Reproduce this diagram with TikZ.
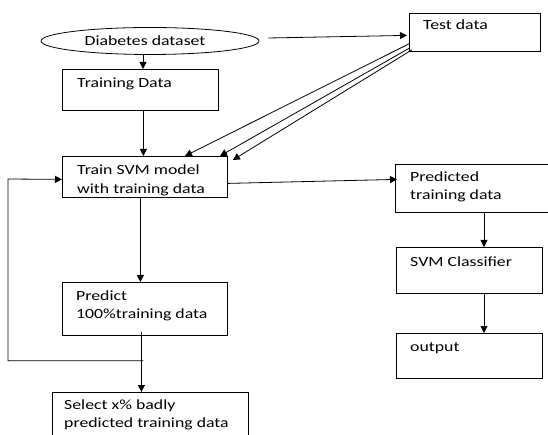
\documentclass[tikz,border=0pt]{standalone}
\usepackage{fontspec}
\setmainfont{Carlito}[FakeStretch=1.27]
\usetikzlibrary{arrows.meta,shapes.geometric,calc}
\begin{document}
\begin{tikzpicture}[x=1pt,y=-1pt,
  box/.style={draw, line width=0.8pt, inner sep=0pt, anchor=north west},
  lbl/.style={anchor=north west, inner sep=0pt, align=left, font=\fontsize{14}{18.5}\selectfont},
  arr/.style={-{Triangle[length=7pt,width=7pt]}, line width=0.8pt},
  ln/.style={line width=0.8pt}]
\useasboundingbox (0,0) rectangle (548,435);
\clip (0,0) rectangle (548,435);
% boxes
\node[draw, ellipse, line width=0.8pt, minimum width=218pt, minimum height=27pt, inner sep=0pt] (ds) at (150,41) {};
\node[lbl, anchor=center] (dsT) at (145,41) {Diabetes dataset};
\node[box, minimum width=131pt, minimum height=38pt] (test) at (409,13) {};
\node[box, minimum width=156pt, minimum height=41pt] (td) at (62,69) {};
\node[box, minimum width=165pt, minimum height=41pt] (tr) at (62,156) {};
\node[box, minimum width=165pt, minimum height=53pt] (pr) at (62,282) {};
\node[box, minimum width=196pt, minimum height=60pt] (sel) at (52,392) {};
\node[box, minimum width=160pt, minimum height=48pt] (pd) at (395,164) {};
\node[box, minimum width=146pt, minimum height=46pt] (svm) at (396,247) {};
\node[box, minimum width=146pt, minimum height=45pt] (out) at (396,333) {};
% texts
\node[lbl] (testT) at (423,18) {\rule{0pt}{11pt}Test data};
\node[lbl] (tdT) at (77,76) {\rule{0pt}{11pt}Training Data};
\node[lbl] (trT) at (77,163.5) {\rule{0pt}{11pt}Train SVM model\\with training data};
\node[lbl] (pdT) at (410,170) {\rule{0pt}{11pt}Predicted\\training data};
\node[lbl] (svmT) at (410,255) {\rule{0pt}{11pt}SVM Classifier};
\node[lbl] (outT) at (410,340) {\rule{0pt}{11pt}output};
\node[lbl] (prT) at (76,289) {\rule{0pt}{11pt}Predict\\100\%training data};
\node[lbl] (selT) at (64,398) {\rule{0pt}{11pt}Select x\% badly\\predicted training data};
% connector anchors
\path ($(ds.south)+(-7,0)$) coordinate (a1);
\path ($(td.south)+(3,0)$) coordinate (a2);
\path ($(tr.south)+(-4.5,0)$) coordinate (a3);
\path ($(pr.south)+(-3.5,-4)$) coordinate (a4);
\path ($(pd.south west)+(89,0)$) coordinate (a5);
\path ($(svm.south west)+(88,0)$) coordinate (a6);
\coordinate (s1) at ($(test.south west)+(0,-8)$);
\coordinate (s2) at ($(test.south west)+(1,-4)$);
\coordinate (s3) at ($(test.south west)+(3,-2)$);
% connectors
\draw[arr] (a1) -- (a1 |- td.north);
\draw[arr] ($(ds.east)+(9,-3)$) -- ($(test.west)+(-2,3)$);
\draw[arr] (s1) -- ($(tr.north west)+(123,0)$);
\draw[arr] (s2) -- ($(tr.north west)+(158,0)$);
\draw[arr] (s3) -- ($(tr.north east)+(5,4)$);
\draw[arr] (a2) -- (a2 |- tr.north);
\draw[arr] ($(tr.east)+(0,6.5)$) -- ($(pd.west)+(2,-9)$);
\draw[arr] (a3) -- (a3 |- pr.north);
\draw[arr] (a4) -- (a4 |- sel.north);
\coordinate (fb1) at ($(pr.south)+(-1.5,25)$);
\coordinate (fb2) at (8,0);
\draw[arr] (fb1) -- (fb1 -| fb2) -- ($(fb2)+(0,179)$) -- ($(tr.west)+(0,2.5)$);
\draw[arr] (a5) -- (a5 |- svm.north);
\draw[arr] (a6) -- (a6 |- out.north);
\end{tikzpicture}
\end{document}
